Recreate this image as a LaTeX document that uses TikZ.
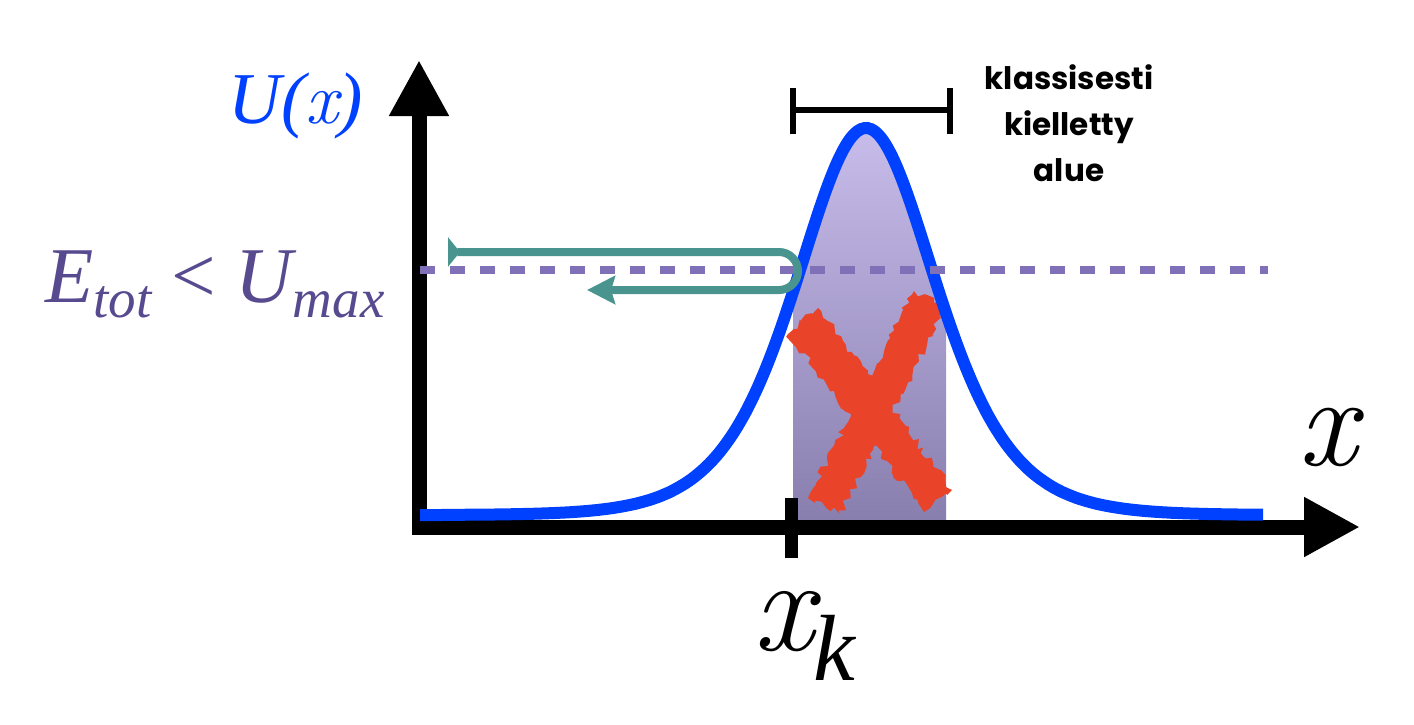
\documentclass[tikz,border=0pt]{standalone}
\usepackage{fontspec}
\setmainfont{Liberation Serif}
\newfontfamily\labelfont{Poppins}
\newfontfamily\lmfont{Latin Modern Roman}
\usetikzlibrary{arrows.meta,decorations.pathmorphing}
\definecolor{curveblue}{RGB}{0,64,255}
\definecolor{energy}{RGB}{128,112,184}
\definecolor{etext}{RGB}{88,74,143}
\definecolor{tealc}{RGB}{74,148,144}
\definecolor{xred}{RGB}{233,67,41}
\definecolor{shtop}{RGB}{199,188,234}
\definecolor{shbot}{RGB}{137,127,175}
\tikzset{
  declare function={sechsq(\u)=4*exp(-2*abs(\u))/((1+exp(-2*abs(\u)))^2);
                    pot(\x)=515-387*sechsq((\x-866)/94);},
  axisline/.style={line width=7.5pt, line join=miter, draw=black},
  potline/.style={line width=6pt, draw=curveblue},
  energyline/.style={line width=4pt, draw=energy, dash pattern=on 7.5pt off 7.5pt},
  bounce/.style={line width=4pt, draw=tealc, rounded corners=9.5pt},
  brackline/.style={line width=3pt, draw=black},
  roughx/.style={fill=xred, decorate, decoration={random steps, segment length=2.5pt, amplitude=1.8pt}},
}
\newcommand{\cx}{{\lmfont\itshape x}}
\begin{document}
\begin{tikzpicture}[x=0.5pt, y=-0.5pt]
\useasboundingbox (0,0) rectangle (1414,724);
% shaded forbidden region
\begin{scope}
  \clip (793,0) rectangle (946,520);
  \shade[top color=shtop, bottom color=shbot]
    plot[domain=770:970, samples=80, smooth] (\x,{pot(\x)}) -- (970,520) -- (770,520) -- cycle;
\end{scope}
% red X
\pgfmathsetseed{7}
\fill[roughx] (818,308) -- (952,490) -- (924,512) -- (788,334) -- cycle;
\fill[roughx] (947,306) -- (840,514) -- (808,498) -- (914,291) -- cycle;
% axes
\coordinate (ytip) at (419,60);
\coordinate (corner) at (419,527);
\coordinate (xtip) at (1360,527);
\draw[axisline, {Triangle[length=28pt,width=28pt]}-{Triangle[length=28pt,width=28pt]}] (ytip) -- (corner) -- (xtip);
\coordinate (tickT) at (791,498);
\coordinate (tickB) at (791,558);
\draw[line width=6.5pt] (tickT) -- (tickB);
% potential curve
\draw[potline] plot[domain=420:1263, samples=240, smooth] (\x,{pot(\x)});
% energy level
\coordinate (eL) at (420,270);
\coordinate (eR) at (1268,270);
\draw[energyline] (eL) -- (eR);
% bounce arrow
\coordinate (bStart) at (448,252);
\coordinate (bTop) at (798,252);
\coordinate (bBot) at (798,290);
\coordinate (bEnd) at (587,290);
\draw[bounce, {Triangle[reversed,length=6pt,width=14.5pt]}-{Stealth[length=14pt,width=14pt,inset=2pt]}]
  (bStart) -- (bTop) -- (bBot) -- (bEnd);
% bracket
\coordinate (brL) at (793,110);
\coordinate (brR) at (950,110);
\draw[brackline] (brL) -- (brR);
\draw[line width=2.6pt] ([yshift=-12]brL) -- ([yshift=11]brL);
\draw[line width=2.6pt] ([yshift=-12]brR) -- ([yshift=11]brR);
% labels
\node[anchor=base, inner sep=0, text=curveblue, font=\fontsize{36.5}{38}\selectfont\itshape] (ulab) at (296,123) {U(\cx)};
\node[anchor=base west, inner sep=0, text=etext] (elab) at (45,302)
  {\fontsize{39.5}{40}\selectfont\itshape E\raisebox{-7.5pt}{\fontsize{27.5}{28}\selectfont tot}\upshape\ <\ \itshape U\raisebox{-7.5pt}{\fontsize{27.5}{28}\selectfont max}};
\node[anchor=base, inner sep=0, font=\fontsize{65}{66}\selectfont] (xlab) at (1328,465) {\cx};
\node[anchor=base west, inner sep=0] (xklab) at (753,650)
  {\fontsize{67}{68}\selectfont\cx\raisebox{-15pt}{\fontsize{47}{48}\selectfont\itshape k}};
\node[anchor=north, inner sep=0, align=center, font=\labelfont\bfseries\fontsize{15.5}{23}\selectfont] (forb) at (1069,64)
  {klassisesti\\kielletty\\alue};
\end{tikzpicture}
\end{document}
